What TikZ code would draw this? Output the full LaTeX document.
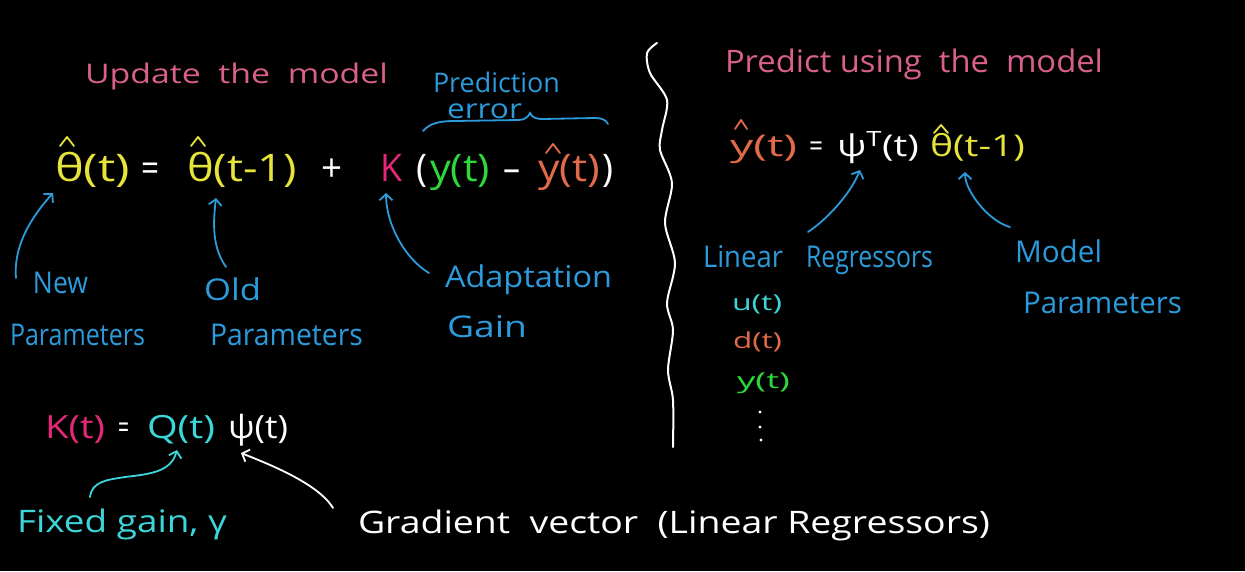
\documentclass[tikz,border=0pt]{standalone}
\usepackage{graphicx}
\usepackage{fontspec}
\setmainfont{Open Sans}
\usetikzlibrary{arrows.meta}
\definecolor{pinkT}{HTML}{D9608C}
\definecolor{magK}{HTML}{E3287A}
\definecolor{yel}{HTML}{E6E33A}
\definecolor{grn}{HTML}{2ED83A}
\definecolor{org}{HTML}{E06A4A}
\definecolor{blu}{HTML}{2C9BDB}
\definecolor{cyn}{HTML}{3CD6DA}
\newcommand\fitw[2]{\resizebox{#1pt}{\height}{#2}}
\newcommand\setfs[1]{\fontsize{#1}{#1}\selectfont}
\tikzset{
  lbl/.style={anchor=base west, inner sep=0pt, outer sep=0pt},
  arr/.style={line width=1.8pt, line cap=round, -{Straight Barb[length=6pt,width=13pt,line width=1.8pt]}},
  hatmark/.style={line width=1.8pt, line cap=round, line join=round},
}
\begin{document}
\begin{tikzpicture}[x=1pt,y=-1pt]
\fill[black] (0,0) rectangle (1245,571);
\useasboundingbox (0,0) rectangle (1245,571);

% ---------- left: update ----------
\node[lbl, text=pinkT, font=\setfs{27}] (tUpd) at (85,83) {\fitw{303}{Update\ \ the\ \ model}};
\node[lbl, text=blu, font=\setfs{27}] (tPred) at (433,92) {\fitw{127}{Prediction}};
\node[lbl, text=blu, font=\setfs{27}] (tErr) at (447,118) {\fitw{75}{error}};
\draw[blu, line width=1.8pt, line cap=round] (423,131) .. controls (430,123) and (440,121) .. (455,121) -- (518,120) .. controls (525,120) and (528,117) .. (530,113) .. controls (532,117) and (535,119) .. (543,119) -- (595,118) .. controls (602,118) and (606,120) .. (608,124);

\node[lbl, text=yel, font=\setfs{38}] (eTh1) at (55,181) {\fitw{75}{θ(t)}};
\node[lbl, text=white, font=\setfs{38}] (eEq1) at (141,181) {\fitw{18}{=}};
\node[lbl, text=yel, font=\setfs{38}] (eTh2) at (187,181) {\fitw{110}{θ(t-1)}};
\node[lbl, text=white, font=\setfs{38}] (ePlus) at (321,181) {\fitw{21}{+}};
\node[lbl, text=magK, font=\setfs{38}] (eK) at (380,181) {\fitw{22}{K}};
\node[lbl, text=white, font=\setfs{38}] (eLp) at (416,181) {\fitw{11}{(}};
\node[lbl, text=grn, font=\setfs{38}] (eY) at (430,181) {\fitw{60}{y(t)}};
\node[lbl, text=white, font=\setfs{38}] (eMin) at (503,181) {\fitw{17}{–}};
\node[lbl, text=org, font=\setfs{38}] (eYh) at (538,181) {\fitw{62}{y(t)}};
\node[lbl, text=white, font=\setfs{38}] (eRp) at (602,181) {\fitw{11}{)}};
\draw[yel, hatmark] (60,146) -- (67,137) -- (74,146);
\draw[yel, hatmark] (191,146) -- (198,137) -- (205,146);
\draw[org, hatmark] (546,153) -- (553,144) -- (560,153);

\node[lbl, text=blu, font=\setfs{30}] (lNew) at (33,293) {\fitw{55}{New}};
\node[lbl, text=blu, font=\setfs{30}] (lNewP) at (10,345) {\fitw{135}{Parameters}};
\node[lbl, text=blu, font=\setfs{30}] (lOld) at (204,300) {\fitw{57}{Old}};
\node[lbl, text=blu, font=\setfs{30}] (lOldP) at (210,345) {\fitw{153}{Parameters}};
\node[lbl, text=blu, font=\setfs{30}] (lAda) at (445,287) {\fitw{167}{Adaptation}};
\node[lbl, text=blu, font=\setfs{30}] (lGain) at (447,337) {\fitw{80}{Gain}};

\draw[blu, arr] ([shift={(-17pt,15pt)}]lNew.base west) .. controls +(-3,-35) and +(-18,20) .. ([shift={(-2pt,-12pt)}]eTh1.base west);
\draw[blu, arr] ([shift={(22pt,33pt)}]lOld.base west) .. controls +(-14,-20) and +(-3,25) .. ([shift={(29pt,-17pt)}]eTh2.base west);
\draw[blu, arr] ([shift={(-16pt,14pt)}]lAda.base west) .. controls +(-25,-15) and +(0,30) .. ([shift={(6pt,-12pt)}]eK.base west);

% ---------- bottom: gain ----------
\node[lbl, text=magK, font=\setfs{32}] (bK) at (45,438) {\fitw{60}{K(t)}};
\node[lbl, text=white, font=\setfs{32}] (bEq) at (118,438) {\fitw{11}{=}};
\node[lbl, text=cyn, font=\setfs{32}] (bQ) at (147,438) {\fitw{68}{Q(t)}};
\node[lbl, text=white, font=\setfs{32}] (bPsi) at (228,438) {\fitw{60}{ψ(t)}};
\node[lbl, text=cyn, font=\setfs{31}] (lFix) at (17,532) {\fitw{210}{Fixed\ gain,\ γ}};
\node[lbl, text=white, font=\setfs{31}] (lGrad) at (358,533) {\fitw{632}{Gradient\ \ vector\ \ (Linear\ Regressors)}};
\draw[cyn, arr] ([shift={(73pt,35pt)}]lFix.base west) .. controls +(2,-15) and +(-20,3) .. (125,477) .. controls +(25,-3) and +(-6,22) .. ([shift={(30pt,-12pt)}]bQ.base west);
\draw[white, arr] ([shift={(-25pt,25pt)}]lGrad.base west) .. controls +(-15,-25) and +(25,10) .. ([shift={(13pt,-15pt)}]bPsi.base west);

% ---------- divider ----------
\draw[white, line width=2pt, line cap=round] plot[smooth] coordinates {(657,43) (647,53) (650,73) (667,100) (662,130) (660,150) (672,183) (665,223) (675,263) (667,303) (673,330) (668,370) (673,400) (673,447)};

% ---------- right: predict ----------
\node[lbl, text=pinkT, font=\setfs{31}] (tPredM) at (725,72) {\fitw{378}{Predict\ using\ \ the\ \ model}};
\node[lbl, text=org, font=\setfs{30}] (rYh) at (730,156) {\fitw{67}{y(t)}};
\node[lbl, text=white, font=\setfs{30}] (rEq) at (809,156) {\fitw{14}{=}};
\node[lbl, text=white, font=\setfs{30}] (rPsi) at (837,156) {\fitw{82}{ψ\textsuperscript{T}(t)}};
\node[lbl, text=yel, font=\setfs{30}] (rTh) at (930,156) {\fitw{95}{θ(t-1)}};
\draw[org, hatmark] (735,129) -- (741,120) -- (747,129);
\draw[yel, hatmark] (934,133) -- (941,125) -- (948,133);

\node[lbl, text=blu, font=\setfs{30}] (lLin) at (703,267) {\fitw{80}{Linear}};
\node[lbl, text=blu, font=\setfs{30}] (lReg) at (806,267) {\fitw{127}{Regressors}};
\node[lbl, text=blu, font=\setfs{30}] (lMod) at (1015,262) {\fitw{87}{Model}};
\node[lbl, text=blu, font=\setfs{30}] (lModP) at (1023,313) {\fitw{159}{Parameters}};
\draw[blu, arr] ([shift={(2pt,35pt)}]lReg.base west) .. controls +(18,-12) and +(-10,25) .. ([shift={(23pt,-14pt)}]rPsi.base west);
\draw[blu, arr] ([shift={(-5pt,35pt)}]lMod.base west) .. controls +(-20,-5) and +(0,20) .. ([shift={(35pt,-16pt)}]rTh.base west);

\node[lbl, text=cyn, font=\setfs{22}] (vU) at (732,310) {\fitw{50}{u(t)}};
\node[lbl, text=org, font=\setfs{22}] (vD) at (733,348) {\fitw{49}{d(t)}};
\node[lbl, text=grn, font=\setfs{22}] (vY) at (737,388) {\fitw{53}{y(t)}};
\fill[white] (760,412) circle (1.6) (760,427) circle (1.6) (761,440) circle (1.6);
\end{tikzpicture}
\end{document}
